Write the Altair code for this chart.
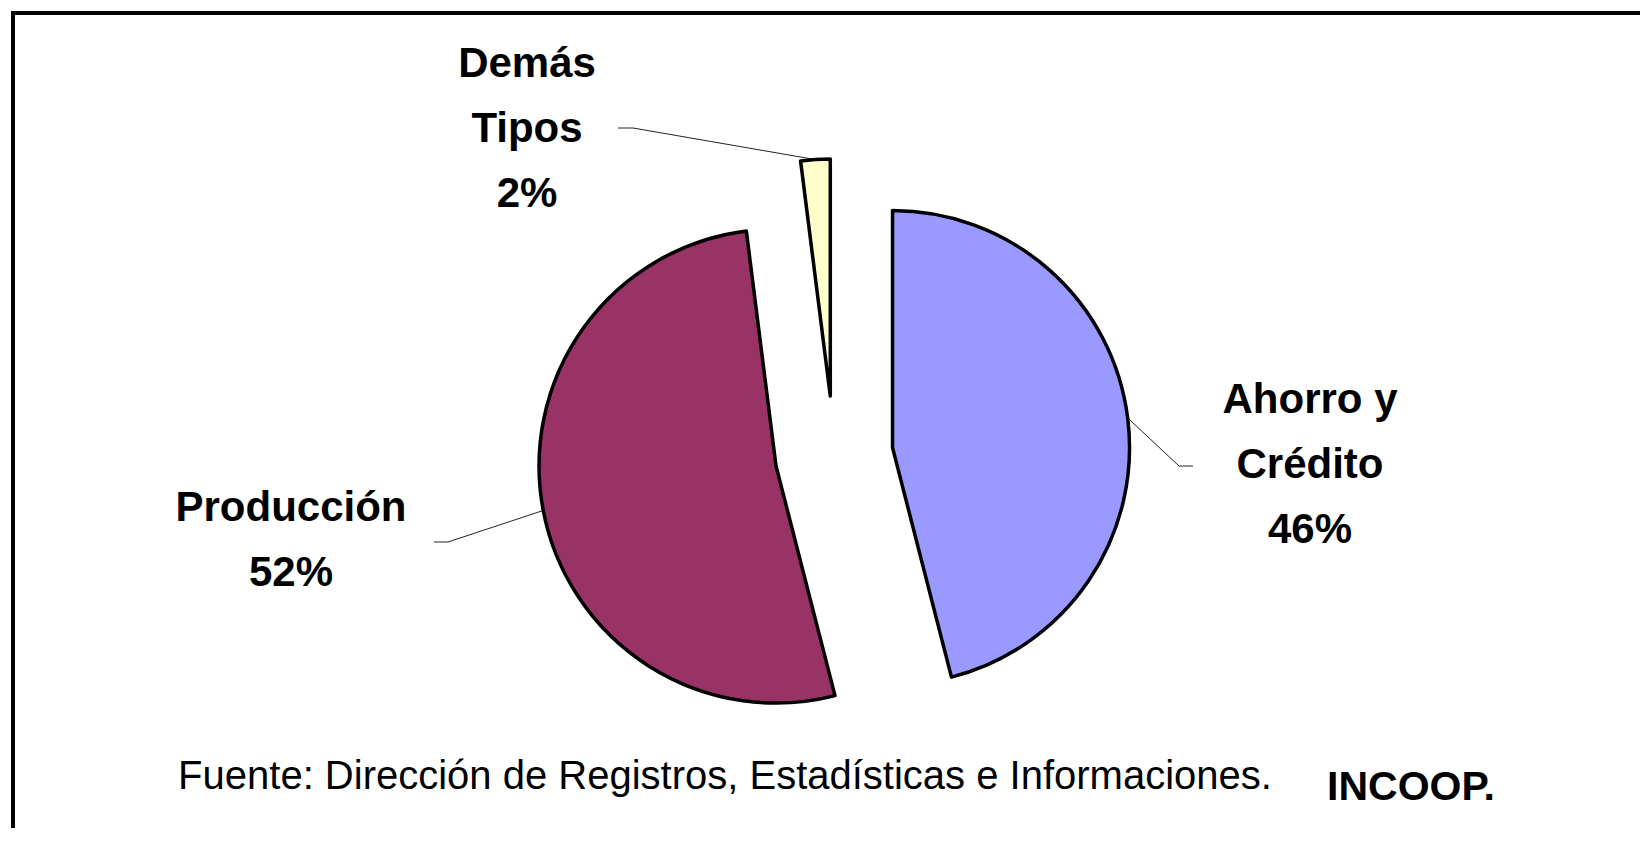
import altair as alt
import pandas as pd

# ---- data ----
categories = ["Ahorro y Crédito", "Producción", "Demás Tipos"]
label_lines = ["Ahorro y\nCrédito", "Producción", "Demás\nTipos"]
values = [46, 52, 2]
colors = ["#9999FF", "#993366", "#FFFFCC"]
footer_text = "Fuente: Dirección de Registros, Estadísticas e Informaciones."
footer_bold = "INCOOP."

# ---- layout (pixels in the view) ----
W, H = 1632, 820
CX, CY = 826, 447
R = 237
EXPLODE = 59
LABEL_POS = {
    "Ahorro y Crédito": dict(lx=1302, ly=405, sx=1185, sy=458, ex=1171, ey=458),
    "Producción": dict(lx=283, ly=513, sx=426, sy=534, ex=440, ey=534),
    "Demás Tipos": dict(lx=519, ly=69, sx=610, sy=120, ex=625, ey=120),
}

df = pd.DataFrame({
    "category": categories,
    "lines": label_lines,
    "value": values,
    "order": list(range(len(categories))),
})
for k in ["lx", "ly", "sx", "sy", "ex", "ey"]:
    df[k] = [LABEL_POS[c][k] for c in categories]

base = (
    alt.Chart(df)
    .transform_joinaggregate(total="sum(value)")
    .transform_window(cum="sum(value)", sort=[alt.SortField("order")], frame=[None, 0])
    .transform_calculate(
        t1="2*PI*datum.cum/datum.total",
        t0="2*PI*(datum.cum-datum.value)/datum.total",
    )
    .transform_calculate(mid="(datum.t0+datum.t1)/2")
    .transform_calculate(
        cx=f"{CX}+{EXPLODE}*sin(datum.mid)",
        cy=f"{CY}-{EXPLODE}*cos(datum.mid)",
        ax=f"{CX}+{EXPLODE + R}*sin(datum.mid)",
        ay=f"{CY}-{(EXPLODE + R)}*cos(datum.mid)",
        label="datum.lines + '\\n' + datum.value + '%'",
    )
)

pie = base.mark_arc(radius=R, stroke="black", strokeWidth=3.5, strokeJoin="round").encode(
    x=alt.X("cx:Q", scale=None, axis=None),
    y=alt.Y("cy:Q", scale=None, axis=None),
    theta=alt.Theta("t0:Q", scale=None),
    theta2=alt.Theta2("t1:Q"),
    color=alt.Color("category:N", scale=alt.Scale(domain=categories, range=colors), legend=None),
)

leader1 = base.mark_rule(color="#222", strokeWidth=1).encode(
    x=alt.X("sx:Q", scale=None, axis=None),
    y=alt.Y("sy:Q", scale=None, axis=None),
    x2="ex:Q",
    y2="ey:Q",
)
leader2 = base.mark_rule(color="#222", strokeWidth=1).encode(
    x=alt.X("ex:Q", scale=None, axis=None),
    y=alt.Y("ey:Q", scale=None, axis=None),
    x2="ax:Q",
    y2="ay:Q",
)

labels = base.mark_text(
    font="Liberation Sans", fontWeight="bold", fontSize=42, align="center",
    baseline="alphabetic", lineBreak="\n", lineHeight=65, color="black",
).encode(
    x=alt.X("lx:Q", scale=None, axis=None),
    y=alt.Y("ly:Q", scale=None, axis=None),
    text="label:N",
)

fdf = pd.DataFrame({"t": [footer_text], "b": [footer_bold]})
footer = alt.Chart(fdf).mark_text(
    font="Liberation Sans", fontSize=40, align="center", baseline="alphabetic", color="black"
).encode(x=alt.value(717), y=alt.value(781), text="t:N")
footer2 = alt.Chart(fdf).mark_text(
    font="Liberation Sans", fontSize=41, fontWeight="bold", align="center",
    baseline="alphabetic", color="black"
).encode(x=alt.value(1403), y=alt.value(792), text="b:N")

border_top = alt.Chart(fdf).mark_rule(color="black", strokeWidth=4).encode(
    x=alt.value(3), x2=alt.value(W), y=alt.value(5)
)
border_left = alt.Chart(fdf).mark_rule(color="black", strokeWidth=4).encode(
    x=alt.value(5), y=alt.value(3), y2=alt.value(H)
)

chart = (
    alt.layer(border_top, border_left, leader1, leader2, pie, labels, footer, footer2)
    .properties(width=W, height=H, padding=0, autosize="none", background="white")
    .configure_view(stroke=None)
)

chart.save("out.html", embed_options={"renderer": "svg", "actions": False})
